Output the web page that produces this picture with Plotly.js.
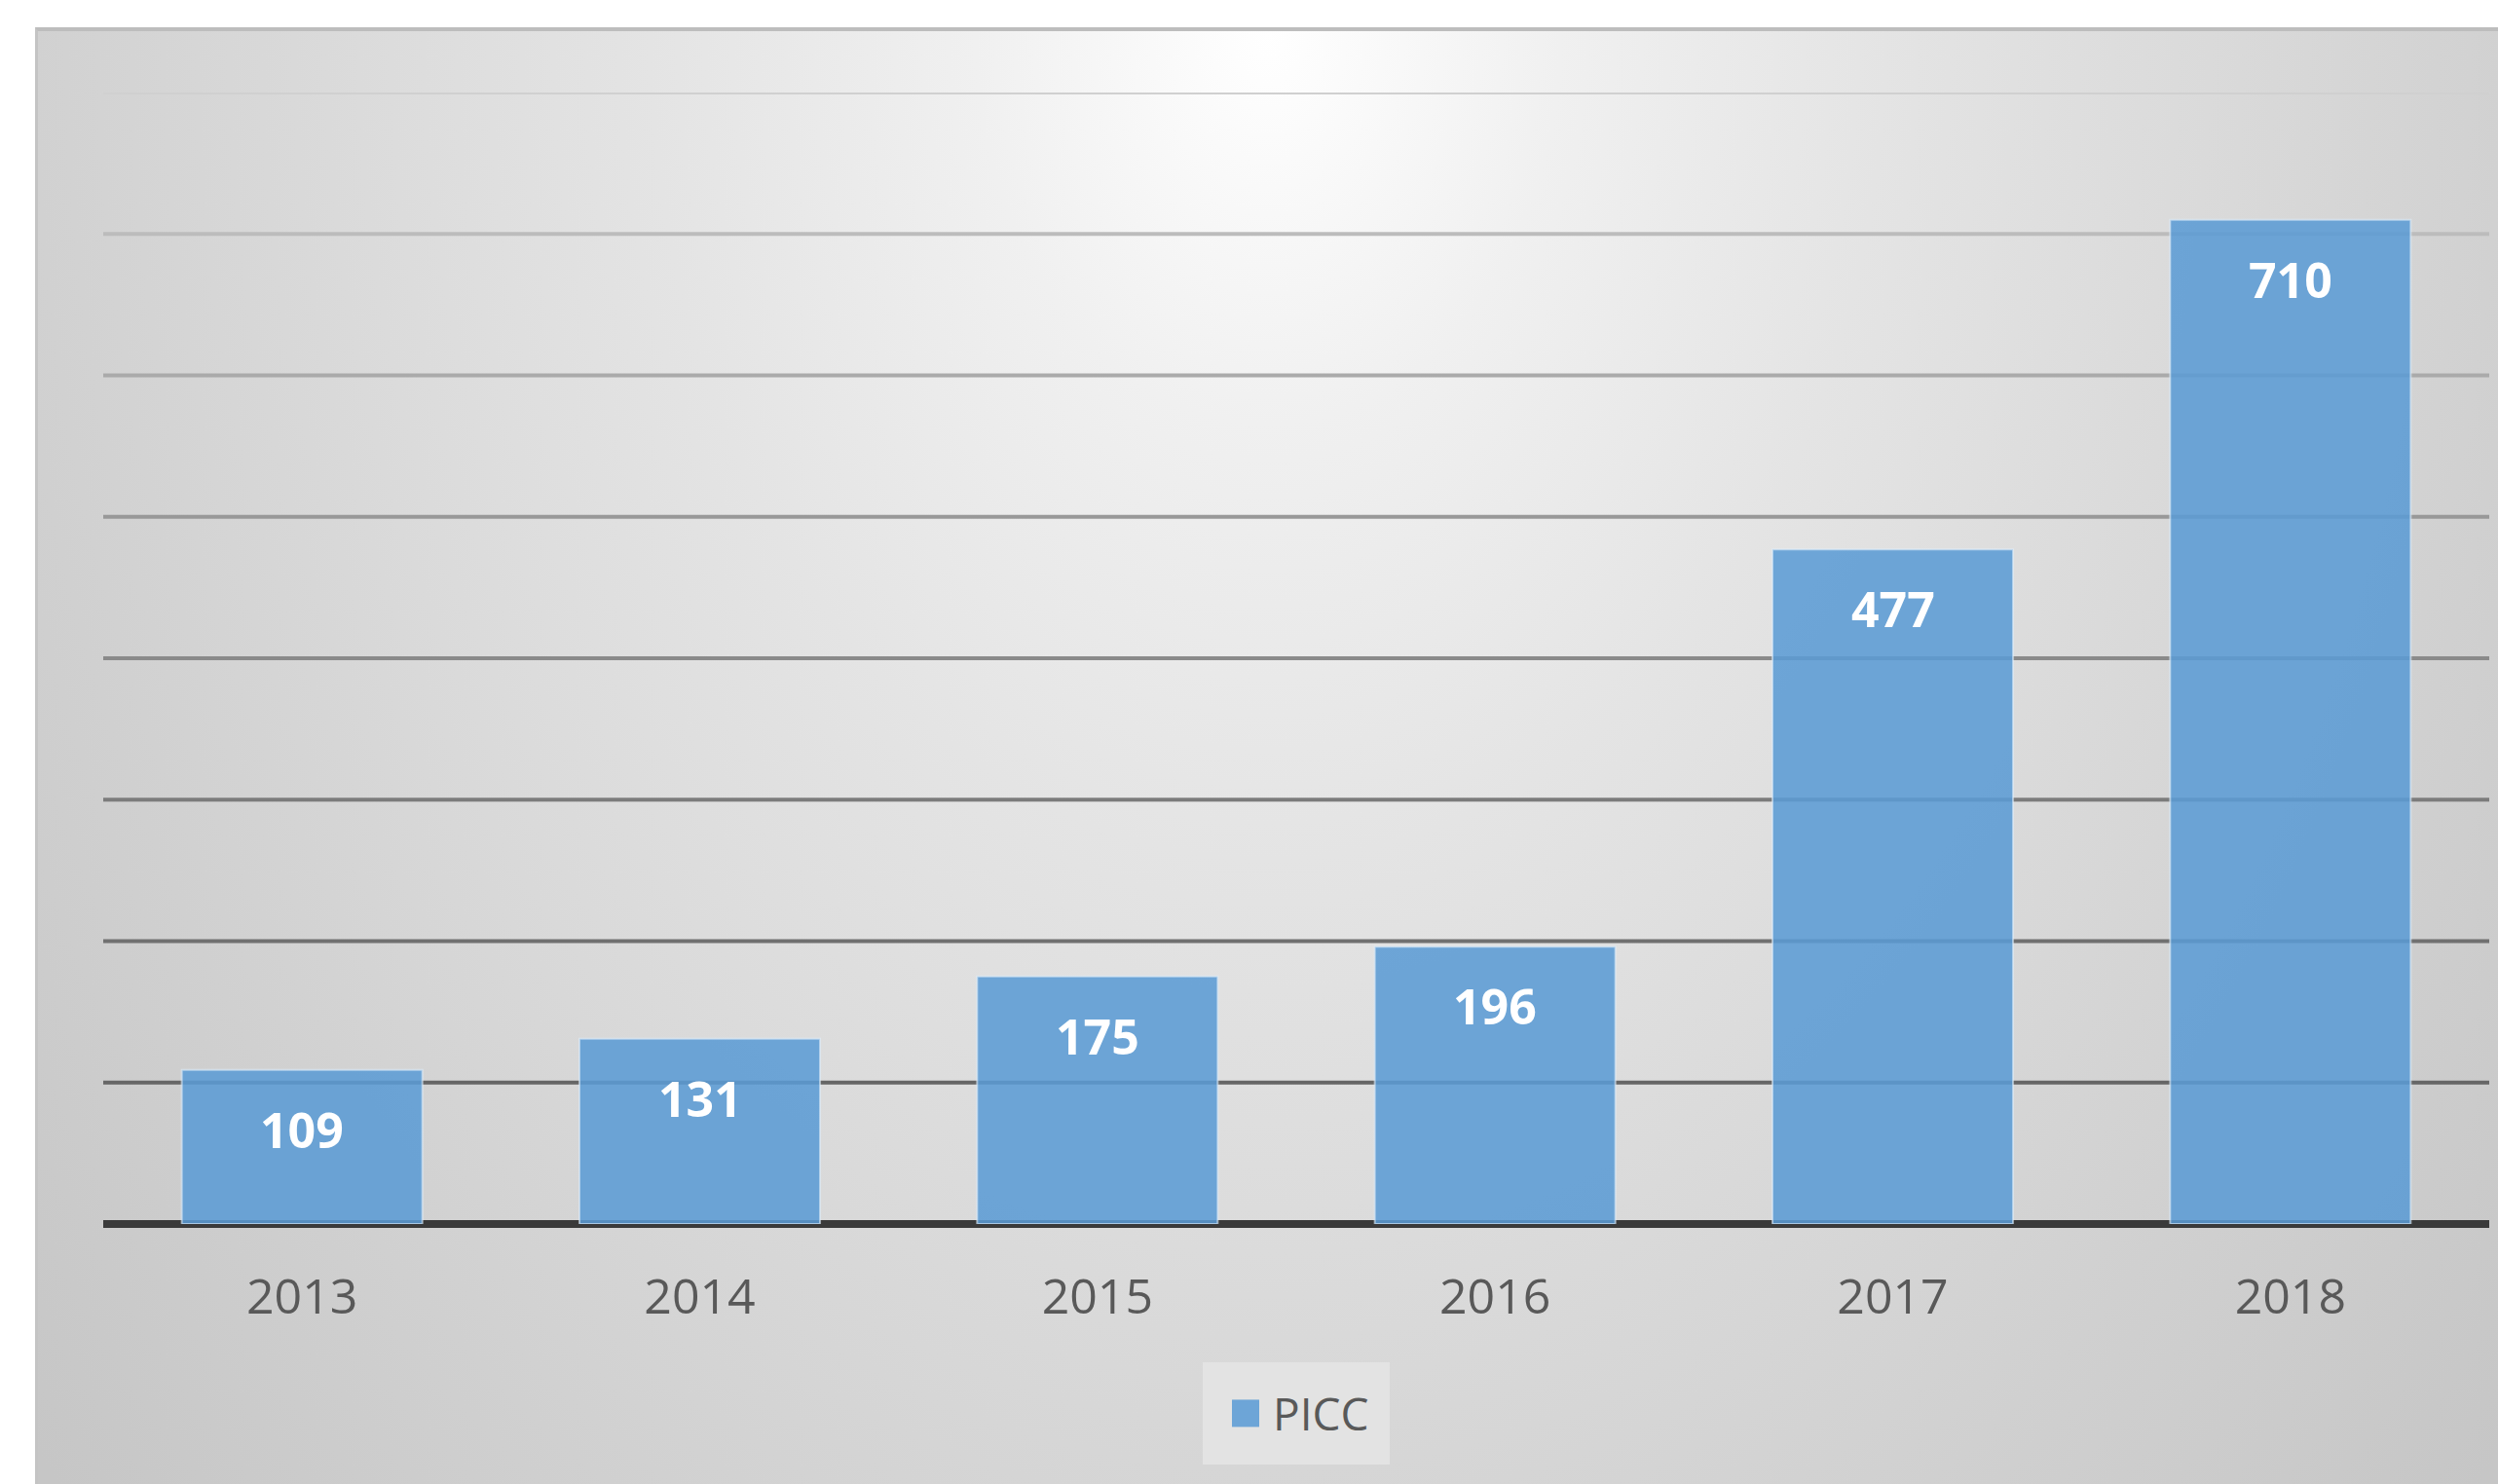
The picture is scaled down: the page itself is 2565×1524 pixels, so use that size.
<!DOCTYPE html>
<html>
<head>
<meta charset="utf-8">
<script src="https://cdn.plot.ly/plotly-3.0.1.min.js"></script>
<style>
  html, body { margin: 0; padding: 0; background: #ffffff; width: 2565px; height: 1524px; overflow: hidden; }
  #bg {
    position: absolute; left: 36px; top: 28px; width: 2529px; height: 1496px;
    background: radial-gradient(ellipse 66% 150% at 50% 0%, #ffffff 0%, #f0f0f0 18%, #e4e4e4 38%, #dadada 58%, #d0d0d0 78%, #c6c6c6 100%);
    border-top: 4px solid #bdbdbd;
    border-left: 3px solid #c4c4c4;
    box-sizing: border-box;
  }
  #chart { position: absolute; left: 0; top: 0; width: 2565px; height: 1524px; }
</style>
</head>
<body>
<div id="bg"></div>
<div id="chart"></div>
<script>
// ---- data ----
const years = ["2013", "2014", "2015", "2016", "2017", "2018"];
const piccValues = [109, 131, 175, 196, 477, 710];
const seriesName = "PICC";
const gridValues = [100, 200, 300, 400, 500, 600, 700, 800];

// ---- style ----
const gridShades = ["#666666", "#707070", "#7c7c7c", "#8a8a8a", "#989898", "#aaaaaa", "#bcbcbc", "#d0d0d0"];
const fontFamily = "'Open Sans', 'Noto Sans', sans-serif";

const traces = [{
  type: "bar",
  x: years,
  y: piccValues,
  name: seriesName,
  marker: { color: "rgba(91,155,213,0.87)", line: { color: "rgba(225,238,250,0.6)", width: 2 } },
  hoverinfo: "none",
  showlegend: true
}];

const layout = {
  width: 2565, height: 1524, autosize: false,
  margin: { l: 106, r: 9, t: 95, b: 267, pad: 0 },
  paper_bgcolor: "rgba(0,0,0,0)",
  plot_bgcolor: "rgba(0,0,0,0)",
  bargap: 0.395,
  showlegend: true,
  legend: {
    orientation: "h", x: 0.5, xanchor: "center", y: -0.1222, yanchor: "top",
    bgcolor: "#e3e3e3", bordercolor: "#e3e3e3", borderwidth: 16,
    itemwidth: 46,
    font: { family: fontFamily, size: 46, color: "#595959" }
  },
  xaxis: {
    type: "category", showgrid: false, showline: false, zeroline: false,
    ticks: "outside", ticklen: 31, tickcolor: "rgba(0,0,0,0)",
    tickfont: { family: fontFamily, size: 50, color: "#595959" },
    fixedrange: true
  },
  yaxis: {
    range: [0, 800], showgrid: false, showticklabels: false, ticks: "",
    zeroline: true, zerolinecolor: "#3a3a3a", zerolinewidth: 8,
    fixedrange: true
  },
  shapes: [],
  annotations: [],
  hovermode: false
};

// gridlines, each with its own shade, placed on the y scale
gridValues.forEach(function (v, i) {
  layout.shapes.push({
    type: "line", layer: "below", xref: "paper", x0: 0, x1: 1, yref: "y", y0: v, y1: v,
    line: { color: gridShades[i], width: 4 }
  });
});

// data labels, placed from the data values (x by category index)
years.forEach(function (yr, i) {
  layout.annotations.push({
    x: i, y: piccValues[i], xref: "x", yref: "y",
    text: String(piccValues[i]), showarrow: false,
    yanchor: "middle", yshift: -61,
    font: { family: fontFamily, size: 50, color: "#ffffff", weight: "bold" }
  });
});

Plotly.newPlot("chart", traces, layout, { staticPlot: true, displayModeBar: false }).then(function () {
  document.querySelectorAll("#chart .legend .legendpoints path").forEach(function (p) {
    const t = p.getAttribute("transform") || "";
    p.setAttribute("transform", t + " scale(2.33)");
    p.style.strokeWidth = "0px";
  });
});
</script>
</body>
</html>
